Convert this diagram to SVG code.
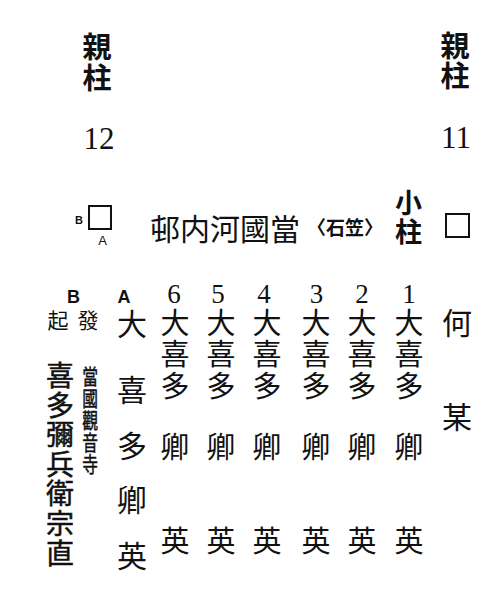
<svg xmlns="http://www.w3.org/2000/svg" width="480" height="602" viewBox="0 0 480 602">
<style>
.cj{font-family:"Noto Sans CJK JP","Noto Sans CJK SC",sans-serif;fill:#111;text-anchor:middle;dominant-baseline:central}
.b{font-weight:700}
.m{font-weight:400;stroke:#111;stroke-width:0.5}
.n{font-family:"Liberation Serif",serif;fill:#111;text-anchor:middle}
.s{font-family:"Liberation Sans",sans-serif;fill:#111;text-anchor:middle}
.box{fill:none;stroke:#111;stroke-width:2}
</style>
<rect width="480" height="602" fill="#fff"/>
<g id="pillar12">
<text class="cj b" font-size="29"><tspan x="97" y="45">親</tspan><tspan x="97" y="76">柱</tspan></text>
<text class="n" font-size="31" x="99" y="149">12</text>
</g>
<g id="pillar11">
<text class="cj b" font-size="29"><tspan x="455" y="44">親</tspan><tspan x="455" y="74">柱</tspan></text>
<text class="n" font-size="31" x="456" y="148">11</text>
</g>
<g id="boxB">
<rect class="box" x="89" y="206" width="22" height="23"/>
<text class="s b" font-size="11" x="79" y="224">B</text>
<text class="s" font-size="13" x="102.5" y="245">A</text>
</g>
<g id="place">
<text class="cj" font-size="30" x="225" y="227">邨内河國當</text>
<text class="cj b" font-size="19" x="345" y="226">〈石笠〉</text>
</g>
<g id="smallPillar">
<text class="cj b" font-size="27"><tspan x="408.5" y="201">小</tspan><tspan x="408.5" y="229.5">柱</tspan></text>
<rect class="box" x="446" y="214" width="23" height="23"/>
</g>
<g id="colB">
<text class="s b" font-size="18" x="73.5" y="303">B</text>
<text class="cj" font-size="21"><tspan x="58" y="319">起</tspan><tspan x="88" y="319">發</tspan></text>
<text class="cj m" font-size="28"><tspan x="60" y="374">喜</tspan><tspan x="60" y="403.6">多</tspan><tspan x="60" y="433.2">彌</tspan><tspan x="60" y="462.8">兵</tspan><tspan x="60" y="492.4">衛</tspan><tspan x="60" y="522">宗</tspan><tspan x="60" y="551.6">直</tspan></text>
<g transform="translate(90,0) scale(0.75,1)">
<text class="cj m" font-size="21"><tspan x="0" y="374">當</tspan><tspan x="0" y="396">國</tspan><tspan x="0" y="418">觀</tspan><tspan x="0" y="440">音</tspan><tspan x="0" y="462">寺</tspan></text>
</g>
</g>
<g id="colA">
<text class="s b" font-size="18" x="124" y="303">A</text>
<text class="cj" font-size="30"><tspan x="132" y="322">大</tspan><tspan x="132" y="388">喜</tspan><tspan x="132" y="444">多</tspan><tspan x="132" y="498">卿</tspan><tspan x="132" y="554">英</tspan></text>
</g>
<g id="col6">
<text class="n" font-size="27" x="174" y="303">6</text>
<text class="cj" font-size="29"><tspan x="175" y="321">大</tspan><tspan x="175" y="352">喜</tspan><tspan x="175" y="384">多</tspan><tspan x="175" y="445">卿</tspan><tspan x="175" y="539">英</tspan></text>
</g>
<g id="col5">
<text class="n" font-size="27" x="218" y="303">5</text>
<text class="cj" font-size="29"><tspan x="221" y="321">大</tspan><tspan x="221" y="352">喜</tspan><tspan x="221" y="384">多</tspan><tspan x="221" y="445">卿</tspan><tspan x="221" y="539">英</tspan></text>
</g>
<g id="col4">
<text class="n" font-size="27" x="264" y="303">4</text>
<text class="cj" font-size="29"><tspan x="267" y="321">大</tspan><tspan x="267" y="352">喜</tspan><tspan x="267" y="384">多</tspan><tspan x="267" y="445">卿</tspan><tspan x="267" y="539">英</tspan></text>
</g>
<g id="col3">
<text class="n" font-size="27" x="316.5" y="303">3</text>
<text class="cj" font-size="29"><tspan x="316" y="321">大</tspan><tspan x="316" y="352">喜</tspan><tspan x="316" y="384">多</tspan><tspan x="316" y="445">卿</tspan><tspan x="316" y="539">英</tspan></text>
</g>
<g id="col2">
<text class="n" font-size="27" x="362" y="303">2</text>
<text class="cj" font-size="29"><tspan x="362" y="321">大</tspan><tspan x="362" y="352">喜</tspan><tspan x="362" y="384">多</tspan><tspan x="362" y="445">卿</tspan><tspan x="362" y="539">英</tspan></text>
</g>
<g id="col1">
<text class="n" font-size="27" x="409" y="303">1</text>
<text class="cj" font-size="29"><tspan x="409" y="321">大</tspan><tspan x="409" y="352">喜</tspan><tspan x="409" y="384">多</tspan><tspan x="409" y="445">卿</tspan><tspan x="409" y="539">英</tspan></text>
</g>
<g id="colUnknown">
<text class="cj" font-size="30"><tspan x="457" y="320.5">何</tspan><tspan x="457" y="414.5">某</tspan></text>
</g>
</svg>
